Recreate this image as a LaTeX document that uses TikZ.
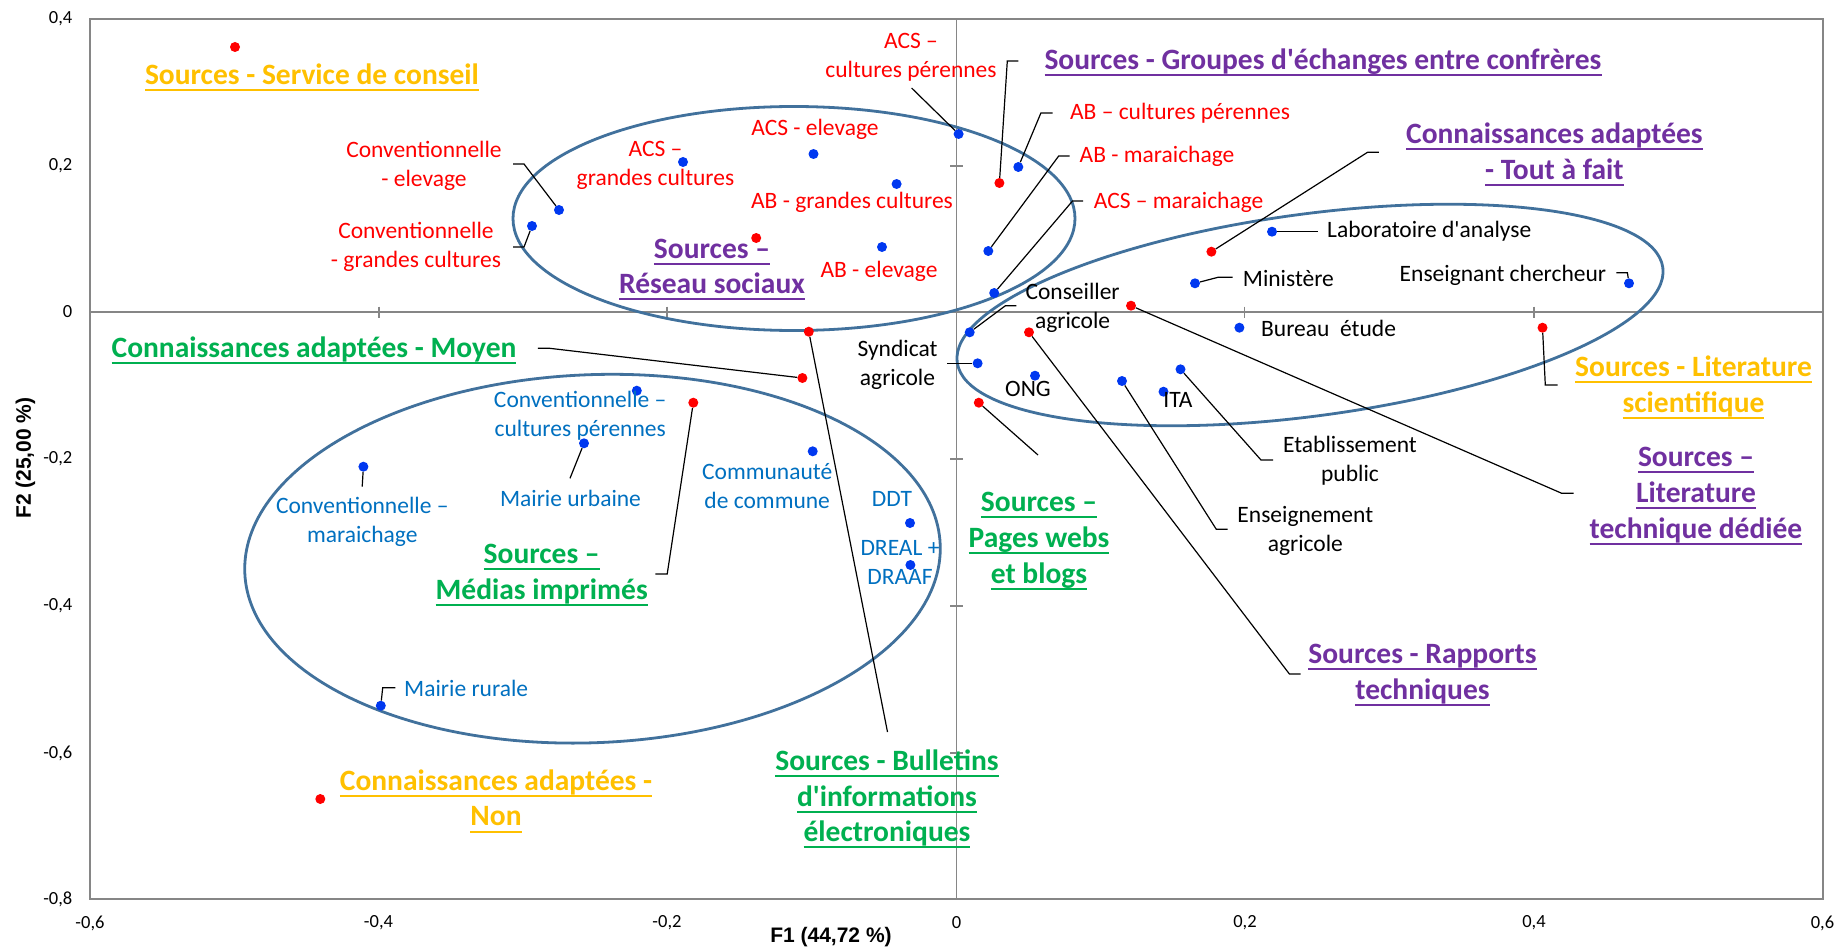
\documentclass[tikz,border=0pt]{standalone}
\usepackage{fontspec}
\setmainfont{Carlito}
\newfontfamily\axfont{Liberation Sans}
\definecolor{dotred}{RGB}{255,0,0}
\definecolor{dotblue}{RGB}{0,56,240}
\definecolor{lblred}{RGB}{255,0,0}
\definecolor{lblblue}{RGB}{0,112,192}
\definecolor{xorange}{RGB}{255,192,0}
\definecolor{xgreen}{RGB}{0,176,80}
\definecolor{xpurple}{RGB}{112,48,160}
\definecolor{ellcol}{RGB}{65,113,156}
\definecolor{axgray}{RGB}{134,134,134}
\newsavebox\ulbox
\newcommand\ulx[1]{\sbox\ulbox{#1}\rlap{\rule[-6.6pt]{\wd\ulbox}{2pt}}\usebox\ulbox}
\newcommand\aq{\textquotesingle}
\tikzset{
  dotr/.style={circle, fill=dotred, inner sep=0pt, minimum size=10pt},
  dotb/.style={circle, fill=dotblue, inner sep=0pt, minimum size=10pt},
  lbl/.style={font=\fontsize{23.5}{29}\selectfont, align=center, inner sep=0pt},
  redl/.style={lbl, text=lblred},
  bluel/.style={lbl, text=lblblue},
  blackl/.style={lbl, text=black},
  ttl/.style={font=\bfseries\fontsize{29.5}{35.7}\selectfont, align=center, inner sep=0pt},
  ttlo/.style={ttl, text=xorange},
  ttlg/.style={ttl, text=xgreen},
  ttlp/.style={ttl, text=xpurple},
  leadln/.style={draw=black, line width=1.2pt},
  grp/.style={draw=ellcol, line width=2.8pt},
  plotframe/.style={draw=axgray, line width=2pt},
  axln/.style={draw=axgray, line width=1.4pt},
  ticklbl/.style={font=\fontsize{18.5}{22}\selectfont, inner sep=0pt},
  axtitle/.style={font=\axfont\bfseries\fontsize{21}{25}\selectfont, inner sep=0pt}
}
\begin{document}
\begin{tikzpicture}[x=1pt,y=-1pt]
\useasboundingbox (0,0) rectangle (1837,947);
\fill[white] (0,0) rectangle (1837,947);
% frame and axes
\draw[plotframe] (90.2,19) rectangle (1822.8,899);
\draw[axln] (90.2,312) -- (1822.8,312);
\draw[axln] (956.5,19) -- (956.5,899);
\foreach \x in {378.8,667,1244.7,1534} \draw[axln] (\x,306.5) -- (\x,317.5);
\foreach \y in {166,459,606,753} \draw[axln] (950,\y) -- (963,\y);
% tick labels
\node[ticklbl, anchor=east] (y04) at (72.5,19) {0,4};
\node[ticklbl, anchor=east] (y02) at (72.5,166) {0,2};
\node[ticklbl, anchor=east] (y00) at (72.5,312) {0};
\node[ticklbl, anchor=east] (ym02) at (72.5,459) {-0,2};
\node[ticklbl, anchor=east] (ym04) at (72.5,606) {-0,4};
\node[ticklbl, anchor=east] (ym06) at (72.5,753) {-0,6};
\node[ticklbl, anchor=east] (ym08) at (72.5,899) {-0,8};
\node[ticklbl] (xm06) at (90,923) {-0,6};
\node[ticklbl] (xm04) at (378.5,923) {-0,4};
\node[ticklbl] (xm02) at (667,923) {-0,2};
\node[ticklbl] (x00) at (956.5,923) {0};
\node[ticklbl] (x02) at (1245,923) {0,2};
\node[ticklbl] (x04) at (1534,923) {0,4};
\node[ticklbl] (x06) at (1822.5,923) {0,6};
\node[axtitle] (xtitle) at (831,937) {F1 (44,72 \%)};
\node[axtitle, rotate=90] (ytitle) at (25.5,458) {F2 (25,00 \%)};
% group ellipses
\draw[grp] (794,218.5) ellipse [x radius=281pt, y radius=112pt];
\draw[grp, rotate around={7.65:(1310,315)}] (1310,315) ellipse [x radius=356pt, y radius=101pt];
\draw[grp, rotate around={2.35:(592.5,558.7)}] (592.5,558.7) ellipse [x radius=348pt, y radius=184pt];
% red points
\node[dotr] (rserv) at (235,47) {};
\node[dotr] (rgroup) at (999.4,183) {};
\node[dotr] (rtout) at (1211.4,251.7) {};
\node[dotr] (rreseau) at (756.2,238) {};
\node[dotr] (rbull) at (808.8,331.7) {};
\node[dotr] (rmoyen) at (802.4,378) {};
\node[dotr] (rmedias) at (693.3,402.7) {};
\node[dotr] (rpages) at (978.8,402.7) {};
\node[dotr] (rrapp) at (1029,332.3) {};
\node[dotr] (rlittech) at (1131,305.7) {};
\node[dotr] (rlitsci) at (1542.5,327.7) {};
\node[dotr] (rnon) at (320.3,799) {};
% blue points
\node[dotb] (bconvel) at (559,210) {};
\node[dotb] (bconvgc) at (532,226) {};
\node[dotb] (bacsgc) at (683,162) {};
\node[dotb] (bacsel) at (813.5,154) {};
\node[dotb] (bacscp) at (958.6,134) {};
\node[dotb] (babgc) at (896.6,184) {};
\node[dotb] (babel) at (882,247) {};
\node[dotb] (babcp) at (1018.3,167) {};
\node[dotb] (babmar) at (988.3,251) {};
\node[dotb] (bacsmar) at (994.2,293) {};
\node[dotb] (blabo) at (1272,231.7) {};
\node[dotb] (bmini) at (1195,283.3) {};
\node[dotb] (bensch) at (1629,283.3) {};
\node[dotb] (bcons) at (969.7,332.3) {};
\node[dotb] (bbureau) at (1239.4,327.7) {};
\node[dotb] (bsynd) at (977.6,363.3) {};
\node[dotb] (bong) at (1035,375.7) {};
\node[dotb] (bita) at (1163.5,391.7) {};
\node[dotb] (betab) at (1180.5,369.3) {};
\node[dotb] (bensag) at (1122,381) {};
\node[dotb] (bconvcp) at (636.8,390.7) {};
\node[dotb] (bmairieu) at (584,443.3) {};
\node[dotb] (bconvmar) at (363.4,466.7) {};
\node[dotb] (bcommu) at (812.7,451.3) {};
\node[dotb] (bddt) at (910,523) {};
\node[dotb] (bdreal) at (910.4,565) {};
\node[dotb] (bmairier) at (380.8,705.7) {};
% leader free ends
\coordinate (cconvel) at (513,164);
\coordinate (cconvgc) at (513,247);
\coordinate (cacscp) at (911.6,88);
\coordinate (cgroup) at (1018.3,61);
\coordinate (cabcp) at (1052.7,113);
\coordinate (cabmar) at (1069.7,156);
\coordinate (cacsmar) at (1083.2,201);
\coordinate (ctout) at (1378.8,152.3);
\coordinate (clabo) at (1317.8,231.7);
\coordinate (cmini) at (1232.5,277.3);
\coordinate (censch) at (1616.4,272.7);
\coordinate (ccons) at (1016.4,305.7);
\coordinate (csynd) at (947,363.3);
\coordinate (clittech) at (1573.7,493.3);
\coordinate (crapp) at (1300.7,674);
\coordinate (censag) at (1227.6,529.3);
\coordinate (cetab) at (1273,460);
\coordinate (clitsci) at (1557.5,385);
\coordinate (cpages) at (1038,455);
\coordinate (cbull) at (887.5,732);
\coordinate (cmoyen) at (537.8,348.3);
\coordinate (cmedias) at (655.4,574);
\coordinate (cmairieu) at (570,478.3);
\coordinate (cconvmar) at (362.2,486.7);
\coordinate (cmairier) at (395.4,687.7);
% leaders
\draw[leadln] (cconvel) -- ++(11,0) -- (bconvel);
\draw[leadln] (cconvgc) -- ++(11,0) -- (bconvgc);
\draw[leadln] (cacscp) -- (bacscp);
\draw[leadln] (cgroup) -- ++(-11,0) -- (rgroup);
\draw[leadln] (cabcp) -- ++(-11.8,0) -- (babcp);
\draw[leadln] (cabmar) -- ++(-11,0) -- (babmar);
\draw[leadln] (cacsmar) -- ++(-10.7,0) -- (bacsmar);
\draw[leadln] (ctout) -- ++(-11.3,0) -- (rtout);
\draw[leadln] (clabo) -- (blabo);
\draw[leadln] (cmini) -- ++(-14.5,0) -- (bmini);
\draw[leadln] (censch) -- ++(11,0) -- (bensch);
\draw[leadln] (ccons) -- ++(-11,0) -- (bcons);
\draw[leadln] (csynd) -- (bsynd);
\draw[leadln] (clittech) -- ++(-12,0) -- (rlittech);
\draw[leadln] (crapp) -- ++(-11.3,0) -- (rrapp);
\draw[leadln] (censag) -- ++(-11.3,0) -- (bensag);
\draw[leadln] (cetab) -- ++(-12,0) -- (betab);
\draw[leadln] (clitsci) -- ++(-12.2,0) -- (rlitsci);
\draw[leadln] (cpages) -- (rpages);
\draw[leadln] (cbull) -- (rbull);
\draw[leadln] (cmoyen) -- ++(11.8,0) -- (rmoyen);
\draw[leadln] (cmedias) -- ++(11.8,0) -- (rmedias);
\draw[leadln] (cmairieu) -- (bmairieu);
\draw[leadln] (cconvmar) -- (bconvmar);
\draw[leadln] (cmairier) -- ++(-12.7,0) -- (bmairier);
% red labels
\node[redl] (lconvel) at (424,165.5) {Conventionnelle\\- elevage};
\node[redl] (lconvgc) at (416,247) {Conventionnelle\\- grandes cultures};
\node[redl] (lacsgc) at (655.5,165) {ACS –\\grandes cultures};
\node[redl] (lacsel) at (815,129) {ACS - elevage};
\node[redl] (labgc) at (852,202) {AB - grandes cultures};
\node[redl] (label) at (879,271) {AB - elevage};
\node[redl] (lacscp) at (911,57) {ACS –\\cultures pérennes};
\node[redl] (labcp) at (1180,113) {AB – cultures pérennes};
\node[redl] (labmar) at (1157,156) {AB - maraichage};
\node[redl] (lacsmar) at (1178.6,202) {ACS – maraichage};
% black labels
\node[blackl, anchor=west] (llabo) at (1327,231.7) {Laboratoire d\aq analyse};
\node[blackl, anchor=west] (lmini) at (1242.7,278.3) {Ministère};
\node[blackl, anchor=east] (lensch) at (1606.3,275) {Enseignant chercheur};
\node[blackl, anchor=west] (lbureau) at (1261,328.3) {Bureau~ étude};
\node[blackl] (lcons) at (1072.6,307.5) {Conseiller\\agricole};
\node[blackl] (lsynd) at (897.5,364.5) {Syndicat\\agricole};
\node[blackl] (long) at (1028,389.3) {ONG};
\node[blackl] (lita) at (1178,400) {ITA};
\node[blackl] (letab) at (1350,461.2) {Etablissement\\public};
\node[blackl] (lensag) at (1305.3,530.7) {Enseignement\\agricole};
% blue labels
\node[bluel] (lconvcp) at (580.2,416.2) {Conventionnelle –\\cultures pérennes};
\node[bluel] (lmairieu) at (570.5,498) {Mairie urbaine};
\node[bluel] (lconvmar) at (362.3,521.7) {Conventionnelle –\\maraichage};
\node[bluel] (lcommu) at (767.2,486.2) {Communauté\\de commune};
\node[bluel] (lddt) at (892,499.3) {DDT};
\node[bluel] (ldreal) at (900,562.5) {DREAL +\\DRAAF};
\node[bluel, anchor=west] (lmairier) at (404,688.3) {Mairie rurale};
% titles
\node[ttlo] (tserv) at (312,77) {\ulx{Sources - Service de conseil}};
\node[ttlp] (tgroup) at (1323,62) {\ulx{Sources - Groupes d\aq échanges entre confrères}};
\node[ttlp] (ttout) at (1554.4,154.5) {\ulx{Connaissances adaptées}\\\ulx{- Tout à fait}};
\node[ttlp] (treseau) at (712,269.5) {\ulx{Sources –}\\\ulx{Réseau sociaux}};
\node[ttlg] (tmoyen) at (314,350.7) {\ulx{Connaissances adaptées - Moyen}};
\node[ttlo] (tlitsci) at (1693.5,387.2) {\ulx{Sources - Literature}\\\ulx{scientifique}};
\node[ttlp] (tlittech) at (1696,496) {\ulx{Sources –}\\\ulx{Literature}\\\ulx{technique dédiée}};
\node[ttlg] (tmedias) at (541.7,575.3) {\ulx{Sources –}\\\ulx{Médias imprimés}};
\node[ttlg] (tpages) at (1039,541) {\ulx{Sources –}\\\ulx{Pages webs}\\\ulx{et blogs}};
\node[ttlp] (trapp) at (1422.5,675.3) {\ulx{Sources - Rapports}\\\ulx{techniques}};
\node[ttlg] (tbull) at (887,799) {\ulx{Sources - Bulletins}\\\ulx{d\aq informations}\\\ulx{électroniques}};
\node[ttlo] (tnon) at (496,801) {\ulx{Connaissances adaptées -}\\\ulx{Non}};
\end{tikzpicture}
\end{document}
